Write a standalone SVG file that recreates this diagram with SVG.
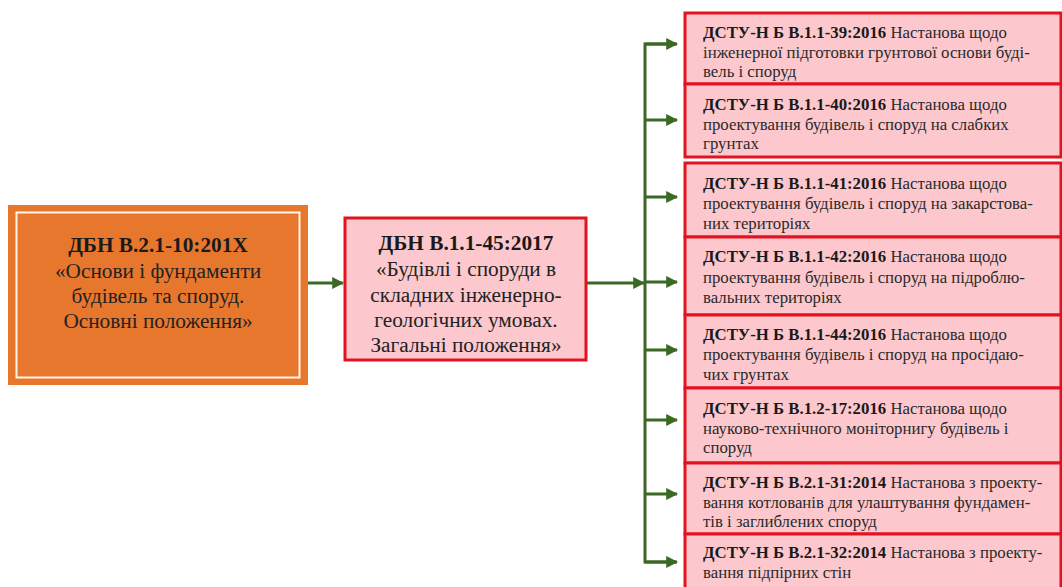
<svg xmlns="http://www.w3.org/2000/svg" width="1062" height="587" viewBox="0 0 1062 587">
<style>
.t{font-family:"Liberation Serif","Times New Roman",serif;fill:#222}
.big{font-size:21.3px}
.sm{font-size:16.8px;fill:#2a2a2a}
.b{font-weight:bold;fill:#1a1a1a}
.doc{fill:#fcc8cd;stroke:#e3121f;stroke-width:3}
.con{stroke:#3b6923;stroke-width:3;fill:none}
</style>
<defs>
<marker id="ah" viewBox="0 0 10 10" refX="9" refY="5" markerWidth="4" markerHeight="4" orient="auto" markerUnits="strokeWidth">
<path d="M0,0 L10,5 L0,10 Z" fill="#3b6923"/>
</marker>
</defs>
<rect width="1062" height="587" fill="#ffffff"/>
<g id="connectors">
<line class="con" x1="308" y1="283" x2="343" y2="283" marker-end="url(#ah)"/>
<line class="con" x1="587" y1="283" x2="644" y2="283" marker-end="url(#ah)"/>
<path class="con" d="M676,44 H645 V562 H676"/>
<line class="con" x1="645" y1="44" x2="677" y2="44" marker-end="url(#ah)"/>
<line class="con" x1="645" y1="120" x2="677" y2="120" marker-end="url(#ah)"/>
<line class="con" x1="645" y1="197" x2="677" y2="197" marker-end="url(#ah)"/>
<line class="con" x1="645" y1="282" x2="677" y2="282" marker-end="url(#ah)"/>
<line class="con" x1="645" y1="350" x2="677" y2="350" marker-end="url(#ah)"/>
<line class="con" x1="645" y1="420" x2="677" y2="420" marker-end="url(#ah)"/>
<line class="con" x1="645" y1="494" x2="677" y2="494" marker-end="url(#ah)"/>
<line class="con" x1="645" y1="562" x2="677" y2="562" marker-end="url(#ah)"/>
</g>
<g id="n_dbn_main">
<rect x="8" y="205" width="300" height="180" fill="#e8772e"/>
<rect x="16.5" y="212.5" width="283" height="165" fill="none" stroke="#fff6e8" stroke-width="2"/>
<text class="t big" text-anchor="middle" x="158"><tspan class="b" x="158" y="252">ДБН В.2.1-10:201X</tspan><tspan x="158" y="278">«Основи і фундаменти</tspan><tspan x="158" y="303">будівель та споруд.</tspan><tspan x="158" y="328">Основні положення»</tspan></text>
</g>
<g id="n_dbn_45">
<rect x="345" y="218" width="241" height="142" class="doc"/>
<text class="t big" text-anchor="middle"><tspan class="b" x="466" y="250">ДБН В.1.1-45:2017</tspan><tspan x="466" y="276">«Будівлі і споруди в</tspan><tspan x="466" y="302">складних інженерно-</tspan><tspan x="466" y="327">геологічних умовах.</tspan><tspan x="466" y="352">Загальні положення»</tspan></text>
</g>
<g id="n_39">
<rect x="685" y="13" width="376" height="71" class="doc"/>
<text class="t sm"><tspan x="703" y="38"><tspan class="b">ДСТУ-Н Б В.1.1-39:2016</tspan> Настанова щодо</tspan><tspan x="703" y="58">інженерної підготовки грунтової основи буді-</tspan><tspan x="703" y="77">вель і споруд</tspan></text>
</g>
<g id="n_40">
<rect x="685" y="84" width="376" height="73" class="doc"/>
<text class="t sm"><tspan x="703" y="110"><tspan class="b">ДСТУ-Н Б В.1.1-40:2016</tspan> Настанова щодо</tspan><tspan x="703" y="130">проектування будівель і споруд на слабких</tspan><tspan x="703" y="149">грунтах</tspan></text>
</g>
<g id="n_41">
<rect x="685" y="163" width="376" height="74" class="doc"/>
<text class="t sm"><tspan x="703" y="189"><tspan class="b">ДСТУ-Н Б В.1.1-41:2016</tspan>  Настанова щодо</tspan><tspan x="703" y="209">проектування будівель і споруд на закарстова-</tspan><tspan x="703" y="229">них територіях</tspan></text>
</g>
<g id="n_42">
<rect x="685" y="237" width="376" height="78" class="doc"/>
<text class="t sm"><tspan x="703" y="262"><tspan class="b">ДСТУ-Н Б В.1.1-42:2016</tspan> Настанова щодо</tspan><tspan x="703" y="283">проектування будівель і споруд на підроблю-</tspan><tspan x="703" y="303">вальних територіях</tspan></text>
</g>
<g id="n_44">
<rect x="685" y="315" width="376" height="73" class="doc"/>
<text class="t sm"><tspan x="703" y="340"><tspan class="b">ДСТУ-Н Б В.1.1-44:2016</tspan> Настанова щодо</tspan><tspan x="703" y="360">проектування будівель і споруд на просідаю-</tspan><tspan x="703" y="380">чих грунтах</tspan></text>
</g>
<g id="n_17">
<rect x="685" y="388" width="376" height="75" class="doc"/>
<text class="t sm"><tspan x="703" y="414"><tspan class="b">ДСТУ-Н Б В.1.2-17:2016</tspan> Настанова щодо</tspan><tspan x="703" y="434">науково-технічного моніторнигу будівель і</tspan><tspan x="703" y="453">споруд</tspan></text>
</g>
<g id="n_31">
<rect x="685" y="463" width="376" height="71" class="doc"/>
<text class="t sm"><tspan x="703" y="488"><tspan class="b">ДСТУ-Н Б В.2.1-31:2014</tspan> Настанова з проекту-</tspan><tspan x="703" y="508">вання котлованів для улаштування фундамен-</tspan><tspan x="703" y="527">тів і заглиблених споруд</tspan></text>
</g>
<g id="n_32">
<rect x="685" y="534" width="376" height="60" class="doc"/>
<text class="t sm"><tspan x="703" y="558"><tspan class="b">ДСТУ-Н Б В.2.1-32:2014</tspan> Настанова з проекту-</tspan><tspan x="703" y="578">вання підпірних стін</tspan></text>
</g>
</svg>
